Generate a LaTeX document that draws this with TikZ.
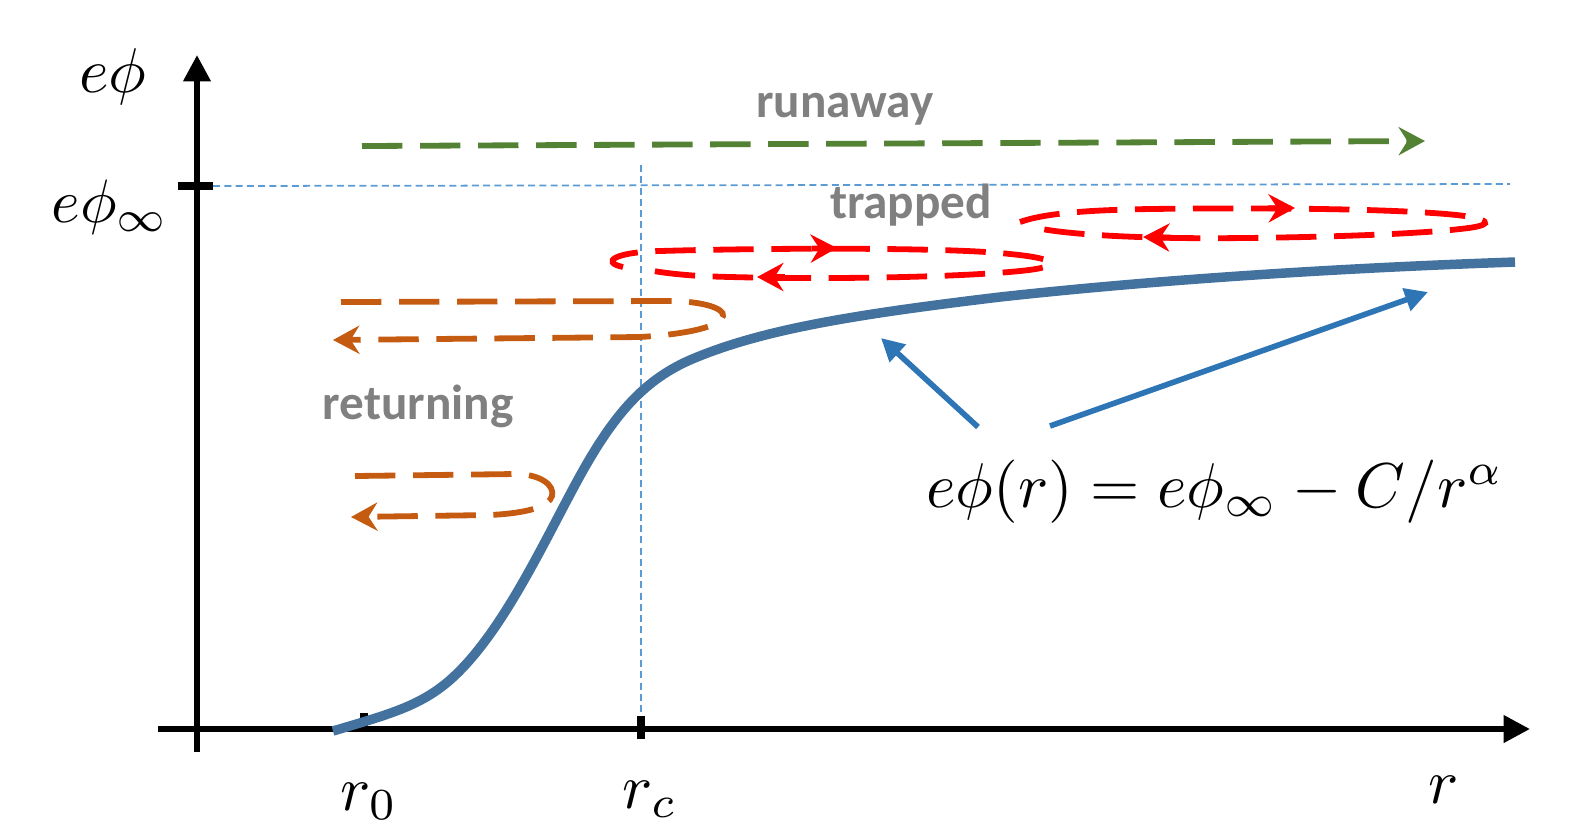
\documentclass[tikz,border=0pt]{standalone}
\usepackage{fontspec}
\newfontfamily\lab{Carlito}
\usetikzlibrary{arrows.meta}
\definecolor{curveblue}{RGB}{67,114,158}
\definecolor{noteblue}{RGB}{46,117,182}
\definecolor{guideblue}{RGB}{91,155,213}
\definecolor{labgray}{RGB}{128,128,128}
\definecolor{rungreen}{RGB}{84,130,53}
\definecolor{retorange}{RGB}{197,90,17}
\definecolor{trapred}{RGB}{255,0,0}
\tikzset{
 axis/.style={line width=1.7pt, -{Triangle[length=7.5pt,width=7.5pt]}},
 flow/.style={line width=1.65pt, dash pattern=on 11.5pt off 5pt},
 tipR/.style={-{Stealth[length=7.5pt,width=8pt,inset=2.5pt]}},
 midtip/.style={line width=1.65pt, solid, -{Stealth[length=7.5pt,width=8pt,inset=2.5pt]}},
 lbl/.style={font=\lab\bfseries\fontsize{14}{16}\selectfont, text=labgray, inner sep=0pt},
 mathlbl/.style={scale=1.8, inner sep=0pt},
 guide/.style={line width=0.5pt, guideblue, dash pattern=on 2pt off 1.2pt},
 note/.style={line width=1.6pt, noteblue, -{Triangle[length=6.5pt,width=6.5pt]}},
 tick/.style={line width=2pt},
}
\begin{document}
\begin{tikzpicture}[x=0.01cm,y=-0.01cm]
\useasboundingbox (0,0) rectangle (1575,835);

% guide lines
\draw[guide] (213,186) -- (1510,184);
\draw[guide] (641,165) -- (641,729);

% axes
\coordinate (yb) at (197,752);
\coordinate (yt) at (197,55);
\coordinate (xl) at (158,729);
\coordinate (xr) at (1530,729);
\draw[axis] (yb) -- (yt);
\draw[axis] (xl) -- (xr);

% ticks
\draw[tick] (178,186) -- (213,186);
\draw[tick] (641,716) -- (641,739);
\draw[line width=2pt] (364,713) -- (364,729);

% axis labels
\node[mathlbl, anchor=base east] (lphi) at (148,92) {$e\phi$};
\node[mathlbl, anchor=base east, scale=0.97] (lphiinf) at (170,222) {$e\phi_\infty$};
\node[mathlbl, anchor=base] (lr0) at (369,810) {$r_0$};
\node[mathlbl, anchor=base] (lrc) at (650,808) {$r_c$};
\node[mathlbl, anchor=base] (lr) at (1444,803) {$r$};

% potential curve
\draw[curveblue, line width=2.7pt, line cap=butt]
 (333,731) .. controls (390,714) and (420,706) .. (450,680)
 .. controls (500,636) and (540,550) .. (575,485)
 .. controls (610,420) and (640,382) .. (690,360)
 .. controls (760,330) and (850,315) .. (1000,297)
 .. controls (1200,275) and (1400,266) .. (1515,262);

% runaway
\node[lbl, anchor=base] (trun) at (845,117) {runaway};
\draw[flow, rungreen, tipR] (362,146) -- (1425,141);

% trapped
\node[lbl, anchor=base] (ttrap) at (911,218) {trapped};
\draw[flow, trapred]
 (623,267) .. controls (600,262) and (615,252) .. (660,251)
 .. controls (760,248) and (950,247) .. (1010,254)
 .. controls (1062,259) and (1062,267) .. (1020,271)
 .. controls (950,278) and (800,280) .. (700,276)
 .. controls (670,274) and (650,271) .. (641,268);
\draw[midtip, trapred] (812,248.5) -- (837,248);
\draw[midtip, trapred] (785,277) -- (757,277);

\draw[flow, trapred]
 (1020,222) .. controls (1045,213) and (1090,210) .. (1150,209)
 .. controls (1300,207) and (1420,210) .. (1465,216)
 .. controls (1495,221) and (1490,226) .. (1460,229)
 .. controls (1400,236) and (1250,239) .. (1180,238)
 .. controls (1110,237) and (1060,233) .. (1037,228);
\draw[midtip, trapred] (1268,208.3) -- (1295,208);
\draw[midtip, trapred] (1170,237.5) -- (1143,237);

% returning
\node[lbl, anchor=base] (tret) at (418,419) {returning};
\draw[flow, retorange, tipR]
 (341,302) -- (660,301) .. controls (700,300) and (725,308) .. (723,316)
 .. controls (721,326) and (690,334) .. (640,337) -- (333,340);
\draw[flow, retorange, tipR]
 (355,476) -- (515,474) .. controls (540,474) and (555,485) .. (552,496)
 .. controls (549,506) and (530,513) .. (490,515) -- (351,517);

% formula and pointers
\node[mathlbl, anchor=base west] (form) at (925,507) {$e\phi(r) = e\phi_\infty - C/r^\alpha$};
\coordinate (t1) at (978,427);
\coordinate (p1) at (881,338);
\coordinate (t2) at (1050,426);
\coordinate (p2) at (1428,292);
\draw[note] (t1) -- (p1);
\draw[note] (t2) -- (p2);
\end{tikzpicture}
\end{document}
